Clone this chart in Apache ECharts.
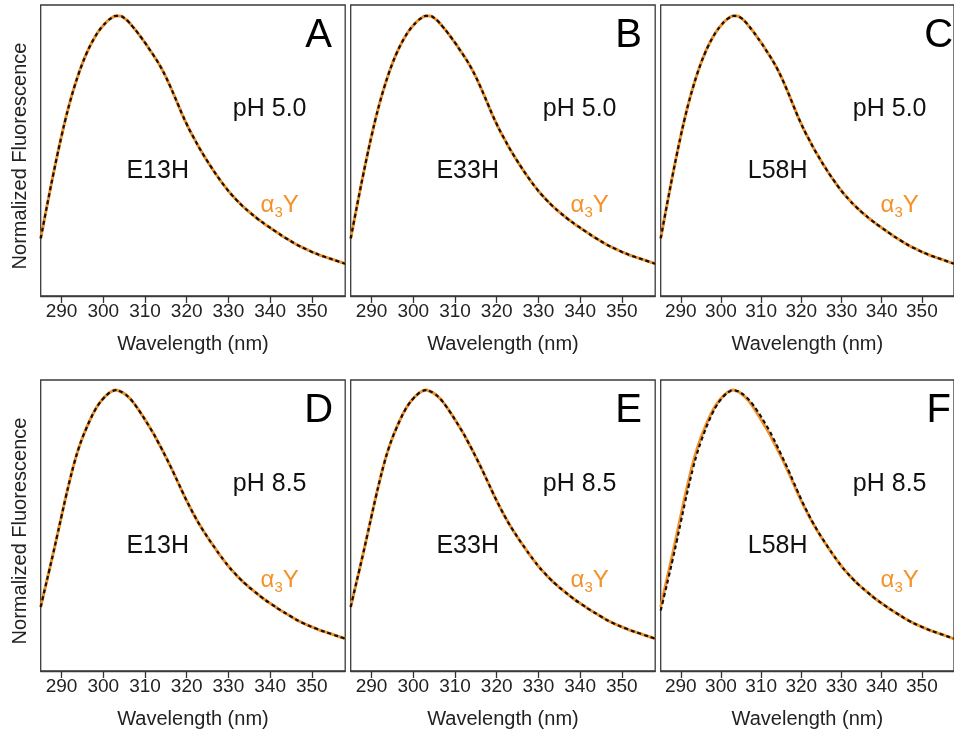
<!DOCTYPE html>
<html>
<head>
<meta charset="utf-8">
<script src="https://cdn.jsdelivr.net/npm/echarts@6.0.0/dist/echarts.min.js"></script>
<style>
  html, body { margin: 0; padding: 0; background: #fff; }
  #chart { width: 954px; height: 731px; }
</style>
</head>
<body>
<div id="chart"></div>
<script>
// emission wavelengths (nm)
var wavelengths = [285, 286, 287, 288, 289, 290, 291, 292, 293, 294, 295, 296, 297, 298, 299,
    300, 301, 302, 303, 304, 305, 306, 307, 308, 309, 310, 311, 312, 313, 314, 315, 316, 317,
    318, 319, 320, 321, 322, 323, 324, 325, 326, 327, 328, 329, 330, 331, 332, 333, 334, 335,
    336, 337, 338, 339, 340, 341, 342, 343, 344, 345, 346, 347, 348, 349, 350, 351, 352, 353,
    354, 355, 356, 357, 358];

// alpha3Y reference spectra, normalized
var a3Y_pH50 = [0.205, 0.282, 0.358, 0.432, 0.503, 0.570, 0.633, 0.690, 0.741, 0.787, 0.828,
    0.864, 0.895, 0.922, 0.945, 0.963, 0.979, 0.990, 0.997, 0.997, 0.990, 0.977, 0.960, 0.942,
    0.922, 0.902, 0.880, 0.858, 0.835, 0.809, 0.780, 0.748, 0.714, 0.679, 0.644, 0.612, 0.582,
    0.555, 0.528, 0.503, 0.479, 0.456, 0.434, 0.413, 0.393, 0.374, 0.357, 0.341, 0.326, 0.312,
    0.299, 0.287, 0.275, 0.264, 0.253, 0.243, 0.233, 0.223, 0.213, 0.204, 0.195, 0.186, 0.178,
    0.171, 0.164, 0.157, 0.151, 0.145, 0.140, 0.135, 0.130, 0.125, 0.120, 0.115];

var a3Y_pH85 = [0.228, 0.292, 0.355, 0.419, 0.485, 0.552, 0.618, 0.680, 0.738, 0.788, 0.830,
    0.866, 0.899, 0.928, 0.952, 0.970, 0.985, 0.995, 1.000, 0.996, 0.988, 0.976, 0.960, 0.940,
    0.918, 0.895, 0.871, 0.846, 0.819, 0.791, 0.762, 0.732, 0.701, 0.669, 0.637, 0.606, 0.577,
    0.549, 0.523, 0.499, 0.476, 0.454, 0.433, 0.412, 0.392, 0.373, 0.356, 0.340, 0.325, 0.311,
    0.298, 0.286, 0.274, 0.262, 0.251, 0.241, 0.231, 0.221, 0.212, 0.203, 0.194, 0.185, 0.177,
    0.170, 0.163, 0.157, 0.151, 0.145, 0.140, 0.135, 0.130, 0.125, 0.120, 0.115];

// mutant spectra (E13H / E33H overlay the reference within the line width)
var E13H_pH50 = a3Y_pH50;
var E33H_pH50 = a3Y_pH50;
var L58H_pH50 = a3Y_pH50;
var E13H_pH85 = a3Y_pH85;
var E33H_pH85 = a3Y_pH85;
var L58H_pH85 = [0.215, 0.275, 0.336, 0.398, 0.463, 0.530, 0.597, 0.660, 0.719, 0.772, 0.816,
    0.855, 0.890, 0.921, 0.947, 0.967, 0.983, 0.994, 1.000, 0.997, 0.990, 0.979, 0.965, 0.947,
    0.927, 0.905, 0.881, 0.857, 0.829, 0.800, 0.770, 0.740, 0.708, 0.675, 0.642, 0.610, 0.580,
    0.552, 0.525, 0.500, 0.477, 0.455, 0.433, 0.412, 0.392, 0.373, 0.356, 0.340, 0.325, 0.311,
    0.298, 0.286, 0.274, 0.262, 0.251, 0.241, 0.231, 0.221, 0.212, 0.203, 0.194, 0.185, 0.177,
    0.170, 0.163, 0.157, 0.151, 0.145, 0.140, 0.135, 0.130, 0.125, 0.120, 0.115];

var xTicks = [290, 300, 310, 320, 330, 340, 350];
var panelLetters = ['A', 'B', 'C', 'D', 'E', 'F'];
var mutantNames = ['E13H', 'E33H', 'L58H', 'E13H', 'E33H', 'L58H'];
var pHLabels = ['pH 5.0', 'pH 5.0', 'pH 5.0', 'pH 8.5', 'pH 8.5', 'pH 8.5'];
var refSeries = [a3Y_pH50, a3Y_pH50, a3Y_pH50, a3Y_pH85, a3Y_pH85, a3Y_pH85];
var mutSeries = [E13H_pH50, E33H_pH50, L58H_pH50, E13H_pH85, E33H_pH85, L58H_pH85];

var ORANGE = '#f4922a';
var FONT = 'Liberation Sans';

function pairs(ys) {
    return wavelengths.map(function (x, i) { return [x, ys[i]]; });
}

var chart = echarts.init(document.getElementById('chart'));

var colLefts = [40.7, 350.7, 660.7];
var rowTops = [5, 380];
var panelW = 304.5, panelH = 291;

var grids = [], xAxes = [], yAxes = [], series = [], graphics = [];

for (var i = 0; i < 6; i++) {
    var gx = colLefts[i % 3];
    var gy = rowTops[Math.floor(i / 3)];

    grids.push({
        left: gx, top: gy, width: panelW, height: panelH,
        show: true, borderColor: '#3a3a3a', borderWidth: 1.3, backgroundColor: 'transparent'
    });

    xAxes.push({
        type: 'value', gridIndex: i, min: 285, max: 358,
        axisLine: { show: true, lineStyle: { color: '#3a3a3a', width: 1.3 } },
        axisTick: { show: true, length: 7, customValues: xTicks, lineStyle: { color: '#333', width: 1.3 } },
        axisLabel: { customValues: xTicks, color: '#222', fontSize: 19, fontFamily: FONT, margin: 6 },
        splitLine: { show: false },
        name: 'Wavelength (nm)', nameLocation: 'middle', nameGap: 38,
        nameTextStyle: { color: '#222', fontSize: 20, fontFamily: FONT }
    });

    yAxes.push({
        type: 'value', gridIndex: i, min: 0, max: 1.036,
        axisLine: { show: false }, axisTick: { show: false }, axisLabel: { show: false },
        splitLine: { show: false },
        name: (i % 3 === 0) ? 'Normalized Fluorescence' : '',
        nameLocation: 'middle', nameRotate: 90, nameGap: 10,
        nameTextStyle: { color: '#222', fontSize: 20, fontFamily: FONT, padding: [0, 11, 0, 0] }
    });

    series.push({
        name: 'a3Y', type: 'line', xAxisIndex: i, yAxisIndex: i,
        data: pairs(refSeries[i]), smooth: true, showSymbol: false, z: 2,
        lineStyle: { color: ORANGE, width: 3 }
    });
    series.push({
        name: mutantNames[i], type: 'line', xAxisIndex: i, yAxisIndex: i,
        data: pairs(mutSeries[i]), smooth: true, showSymbol: false, z: 3,
        lineStyle: { color: '#111', width: 2.2, type: [4, 3] }
    });

    graphics.push({
        type: 'text', x: gx + 278, y: gy + 31,
        style: { text: panelLetters[i], fontSize: 40, fontFamily: FONT, fill: '#000',
                 align: 'center', verticalAlign: 'middle' }
    });
    graphics.push({
        type: 'text', x: gx + 229, y: gy + 104,
        style: { text: pHLabels[i], fontSize: 25, fontFamily: FONT, fill: '#111',
                 align: 'center', verticalAlign: 'middle' }
    });
    graphics.push({
        type: 'text', x: gx + 117, y: gy + 166,
        style: { text: mutantNames[i], fontSize: 25, fontFamily: FONT, fill: '#111',
                 align: 'center', verticalAlign: 'middle' }
    });
    graphics.push({
        type: 'text', x: gx + 239, y: gy + 200,
        style: {
            text: '{a|α}{s|3}{a|Y}', align: 'center', verticalAlign: 'middle',
            rich: {
                a: { fontSize: 24, fontFamily: FONT, fill: ORANGE, lineHeight: 30 },
                s: { fontSize: 15, fontFamily: FONT, fill: ORANGE, lineHeight: 30,
                     verticalAlign: 'bottom' }
            }
        }
    });
}

var option = {
    animation: false,
    backgroundColor: '#fff',
    grid: grids,
    xAxis: xAxes,
    yAxis: yAxes,
    series: series,
    graphic: graphics
};

chart.setOption(option);
</script>
</body>
</html>
